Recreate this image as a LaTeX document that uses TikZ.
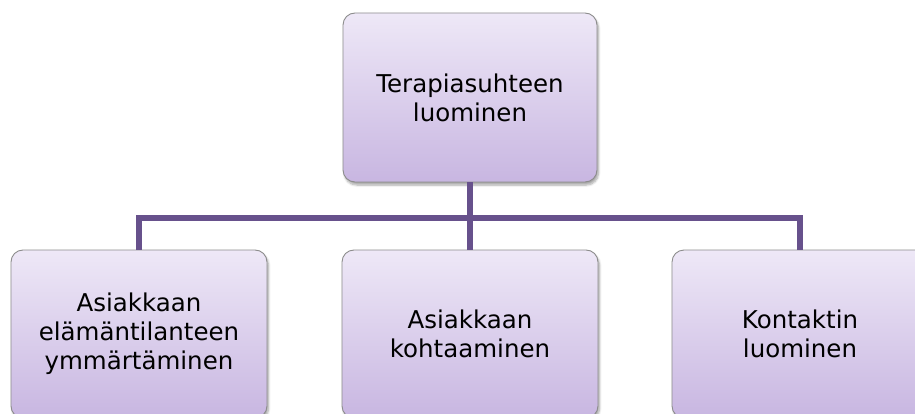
\documentclass[tikz,border=0pt]{standalone}
\usepackage{fontspec}
\setmainfont{DejaVu Sans}
\usetikzlibrary{shadows.blur}
\definecolor{boxtop}{HTML}{EEE8F7}
\definecolor{boxbot}{HTML}{C8B6E1}
\definecolor{boxline}{HTML}{8C8C8C}
\definecolor{conncol}{HTML}{67518C}
\tikzset{
  card/.style={draw=boxline, line width=0.9pt, rounded corners=12pt,
    top color=boxtop, bottom color=boxbot, align=center, inner sep=0pt,
    font=\fontsize{24.5}{29}\selectfont,
    blur shadow={shadow xshift=1.5pt, shadow yshift=-3pt, shadow blur steps=6, shadow opacity=35}},
  topcard/.style={card, minimum width=254pt, minimum height=169pt},
  subcard/.style={card, minimum width=256pt, minimum height=168pt},
  conn/.style={draw=conncol, line width=5.5pt}
}
\begin{document}
\begin{tikzpicture}[x=1pt,y=-1pt]
\useasboundingbox (0,0) rectangle (915,414);
\clip (0,0) rectangle (915,414);
\coordinate (bus) at (0,218);
\node[topcard] (top) at (470,97.5) {Terapiasuhteen\\luominen};
\node[subcard] (left) at (139,334) {Asiakkaan\\elämäntilanteen\\ymmärtäminen};
\node[subcard] (mid) at (470,334) {Asiakkaan\\kohtaaminen};
\node[subcard] (right) at (800,334) {Kontaktin\\luominen};
\draw[conn] (top.south) -- (top.south |- bus);
\draw[conn] (left.north) -- (left.north |- bus) -- (right.north |- bus) -- (right.north);
\draw[conn] (mid.north) -- (mid.north |- bus);
\end{tikzpicture}
\end{document}
